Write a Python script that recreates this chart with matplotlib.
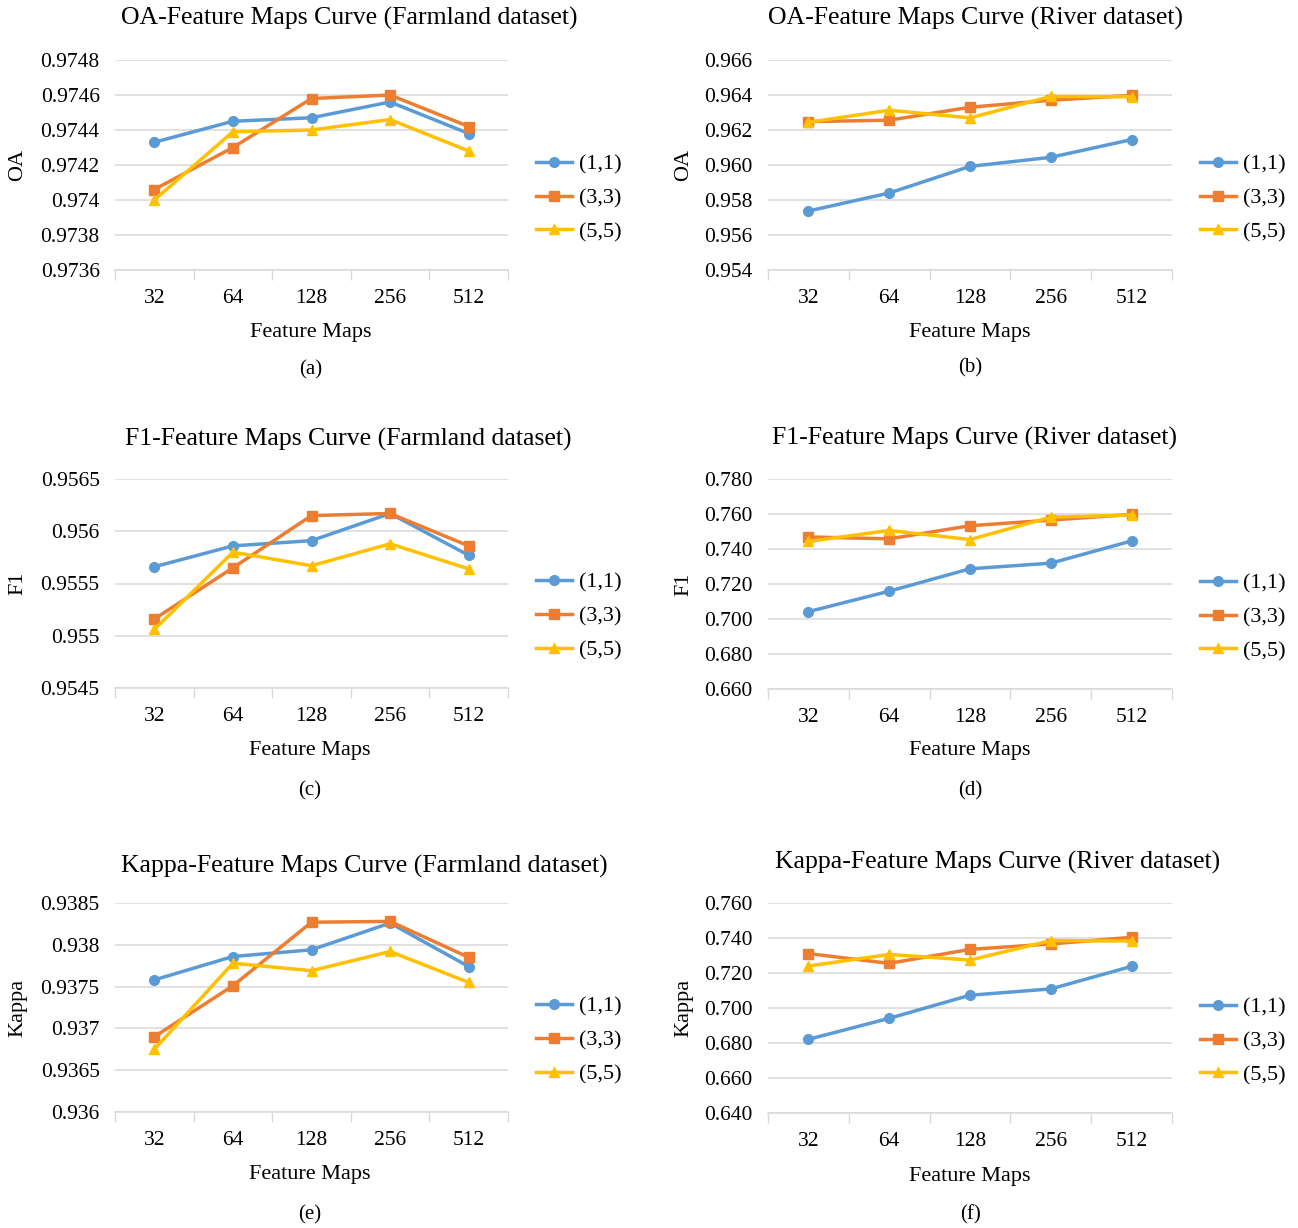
import matplotlib
matplotlib.use("Agg")
import matplotlib.pyplot as plt
import numpy as np

plt.rcParams['font.family'] = ['Liberation Serif', 'DejaVu Serif']

# ---------------------------------------------------------------------------
# Data
# ---------------------------------------------------------------------------
feature_maps = ['32', '64', '128', '256', '512']
series_names = ['(1,1)', '(3,3)', '(5,5)']

oa_farm_11 = [0.97433, 0.97445, 0.97447, 0.97456, 0.97438]
oa_farm_33 = [0.97406, 0.97430, 0.97458, 0.97460, 0.97442]
oa_farm_55 = [0.97400, 0.97439, 0.97440, 0.97446, 0.97428]

oa_river_11 = [0.95737, 0.95840, 0.95992, 0.96044, 0.96145]
oa_river_33 = [0.96248, 0.96256, 0.96330, 0.96370, 0.96398]
oa_river_55 = [0.96244, 0.96313, 0.96269, 0.96392, 0.96390]

f1_farm_11 = [0.95566, 0.95586, 0.95591, 0.95617, 0.95577]
f1_farm_33 = [0.95516, 0.95565, 0.95615, 0.95617, 0.95586]
f1_farm_55 = [0.95506, 0.95580, 0.95567, 0.95588, 0.95564]

f1_river_11 = [0.7042, 0.7159, 0.7287, 0.7319, 0.7446]
f1_river_33 = [0.7469, 0.7458, 0.7533, 0.7565, 0.7598]
f1_river_55 = [0.7443, 0.7506, 0.7454, 0.7582, 0.7594]

kappa_farm_11 = [0.93758, 0.93786, 0.93794, 0.93826, 0.93774]
kappa_farm_33 = [0.93690, 0.93751, 0.93827, 0.93828, 0.93785]
kappa_farm_55 = [0.93675, 0.93778, 0.93769, 0.93792, 0.93755]

kappa_river_11 = [0.6821, 0.6941, 0.7073, 0.7109, 0.7238]
kappa_river_33 = [0.7311, 0.7255, 0.7335, 0.7366, 0.7404]
kappa_river_55 = [0.7240, 0.7306, 0.7274, 0.7385, 0.7383]

colors = ['#5B9BD5', '#ED7D31', '#FFC000']
markers = ['o', 's', '^']

W, H = 1298, 1228
fig = plt.figure(figsize=(W / 100, H / 100), dpi=100)

# panel spec: (series, ylabel, title, ylim, step, fmt, axes px box, title px, letter, label px, ylabel x)
panels = [
    ([oa_farm_11, oa_farm_33, oa_farm_55], 'OA', 'OA-Feature Maps Curve (Farmland dataset)',
     (0.9736, 0.9748), 0.0002, '{:g}', (115, 508, 60, 270), (349, 18), '(a)', (311, 332, 370), 18),
    ([oa_river_11, oa_river_33, oa_river_55], 'OA', 'OA-Feature Maps Curve (River dataset)',
     (0.954, 0.966), 0.002, '{:.3f}', (768, 1172, 60, 270), (975, 18), '(b)', (970, 332, 368), 684),
    ([f1_farm_11, f1_farm_33, f1_farm_55], 'F1', 'F1-Feature Maps Curve (Farmland dataset)',
     (0.9545, 0.9565), 0.0005, '{:g}', (115, 508, 479, 688), (348, 439), '(c)', (310, 751, 791), 18),
    ([f1_river_11, f1_river_33, f1_river_55], 'F1', 'F1-Feature Maps Curve (River dataset)',
     (0.660, 0.780), 0.02, '{:.3f}', (768, 1172, 479, 689), (975, 438), '(d)', (970, 751, 791), 684),
    ([kappa_farm_11, kappa_farm_33, kappa_farm_55], 'Kappa', 'Kappa-Feature Maps Curve (Farmland dataset)',
     (0.936, 0.9385), 0.0005, '{:g}', (115, 508, 903, 1112), (364, 866), '(e)', (310, 1174, 1215), 18),
    ([kappa_river_11, kappa_river_33, kappa_river_55], 'Kappa', 'Kappa-Feature Maps Curve (River dataset)',
     (0.640, 0.760), 0.02, '{:.3f}', (768, 1172, 903, 1113), (998, 862), '(f)', (970, 1176, 1215), 684),
]

x = np.arange(len(feature_maps))
grid_col = '#D9D9D9'

for series, ylab, title, ylim, step, fmt, box, tpos, letter, xlpos, ylx in panels:
    l, r, t, b = box
    ax = fig.add_axes([l / W, 1 - b / H, (r - l) / W, (b - t) / H])
    for vals, name, c, m in zip(series, series_names, colors, markers):
        ax.plot(x, vals, color=c, marker=m, markersize=7, linewidth=2.5,
                label=name, zorder=3, clip_on=False)
    ax.set_xlim(-0.5, len(feature_maps) - 0.5)
    ax.set_ylim(*ylim)
    yt = np.arange(ylim[0], ylim[1] + step / 2, step)
    ax.set_yticks(yt)
    ax.set_yticklabels([fmt.format(round(v, 6)) for v in yt])
    ax.set_xticks(x)
    ax.set_xticklabels(feature_maps)
    ax.set_xticks(np.arange(-0.5, len(feature_maps)), minor=True)
    ax.tick_params(axis='x', which='major', length=0, pad=14, labelsize=15.5)
    ax.tick_params(axis='x', which='minor', length=7, width=1, color=grid_col, direction='out')
    ax.tick_params(axis='y', length=0, pad=11, labelsize=15.5)
    ax.grid(True, axis='y', color=grid_col, linewidth=1.1, zorder=0)
    for s in ['top', 'right', 'left']:
        ax.spines[s].set_visible(False)
    ax.spines['bottom'].set_color(grid_col)
    ax.spines['bottom'].set_linewidth(1.1)

    fig.text(tpos[0] / W, 1 - tpos[1] / H, title, ha='center', va='center', fontsize=18.5)
    fig.text(xlpos[0] / W, 1 - xlpos[1] / H, 'Feature Maps', ha='center', va='center', fontsize=16)
    fig.text(xlpos[0] / W, 1 - xlpos[2] / H, letter, ha='center', va='center', fontsize=15)
    fig.text(ylx / W, 1 - ((t + b) / 2) / H, ylab, ha='center', va='center',
             rotation=90, fontsize=16)

    ax.legend(loc='center left', bbox_to_anchor=((r + 17) / W, 1 - ((t + b) / 2 + 33) / H),
              bbox_transform=fig.transFigure, frameon=False, fontsize=16,
              handlelength=1.6, handletextpad=0.35, labelspacing=0.6, borderpad=0)

plt.savefig('out.png', dpi=100)
